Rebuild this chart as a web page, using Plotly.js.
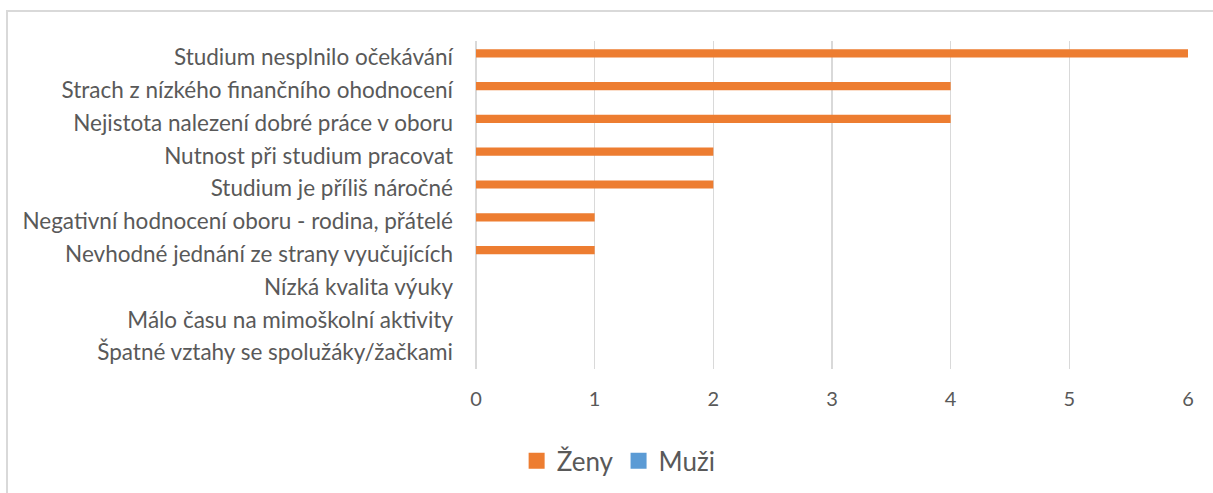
<!DOCTYPE html>
<html>
<head>
<meta charset="utf-8">
<script src="https://cdn.plot.ly/plotly-3.0.1.min.js"></script>
<style>
  html, body { margin: 0; padding: 0; background: #fff; }
  #wrap { position: relative; width: 1213px; height: 493px; overflow: hidden; }
  #chart { width: 1213px; height: 493px; }
  #frame { position: absolute; left: 6px; top: 10px; width: 1300px; height: 600px;
           border-top: 2px solid #d9d9d9; border-left: 2px solid #d9d9d9; pointer-events: none; }
</style>
</head>
<body>
<div id="wrap">
  <div id="chart"></div>
  <div id="frame"></div>
</div>
<script>
const categories = [
  "Studium nesplnilo očekávání",
  "Strach z nízkého finančního ohodnocení",
  "Nejistota nalezení dobré práce v oboru",
  "Nutnost při studium pracovat",
  "Studium je příliš náročné",
  "Negativní hodnocení oboru - rodina, přátelé",
  "Nevhodné jednání ze strany vyučujících",
  "Nízká kvalita výuky",
  "Málo času na mimoškolní aktivity",
  "Špatné vztahy se spolužáky/žačkami"
];
const seriesNames = ["Ženy", "Muži"];
const seriesColors = ["#ED7D31", "#5B9BD5"];
const zeny = [6, 4, 4, 2, 2, 1, 1, 0, 0, 0];
const muzi = [0, 0, 0, 0, 0, 0, 0, 0, 0, 0];
const xTicks = [0, 1, 2, 3, 4, 5, 6];

const font = "Lato, 'Liberation Sans', sans-serif";
const values = [zeny, muzi];
const traces = [];
values.forEach((v, i) => {
  traces.push({ type: 'bar', orientation: 'h', name: seriesNames[i], x: v, y: categories,
    marker: { color: seriesColors[i] }, showlegend: false, legendgroup: seriesNames[i] });
});
// legend entries with larger square swatches
values.forEach((v, i) => {
  traces.push({ type: 'scatter', mode: 'markers', name: seriesNames[i], x: [null], y: [null],
    marker: { color: seriesColors[i], symbol: 'square', size: 16 },
    showlegend: true, legendgroup: seriesNames[i] });
});

const layout = {
  width: 1213, height: 493,
  margin: { l: 476, r: 25, t: 41, b: 124 },
  paper_bgcolor: '#ffffff', plot_bgcolor: '#ffffff',
  barmode: 'group', bargap: 0.5, bargroupgap: 0,
  font: { family: font, color: '#595959', size: 21 },
  xaxis: {
    range: [0, 6], tickvals: xTicks, ticktext: xTicks.map(String),
    showgrid: true, gridcolor: '#d9d9d9', gridwidth: 1.5,
    zeroline: true, zerolinecolor: '#d9d9d9', zerolinewidth: 1.5,
    showline: false, ticks: '', ticklabelstandoff: 16,
    tickfont: { size: 20, color: '#595959' }, fixedrange: true
  },
  yaxis: {
    type: 'category', autorange: 'reversed', showgrid: false, zeroline: false,
    showline: false, ticks: '', ticklabelstandoff: 22,
    tickfont: { size: 22.5, color: '#595959' }, automargin: false, fixedrange: true
  },
  showlegend: true,
  legend: {
    orientation: 'h', xref: 'container', yref: 'container',
    x: 0.51, xanchor: 'center', y: 0.065, yanchor: 'middle',
    font: { size: 26, color: '#595959' }, traceorder: 'normal',
    itemwidth: 30
  }
};
Plotly.newPlot('chart', traces, layout, { displayModeBar: false, staticPlot: true });
</script>
</body>
</html>
